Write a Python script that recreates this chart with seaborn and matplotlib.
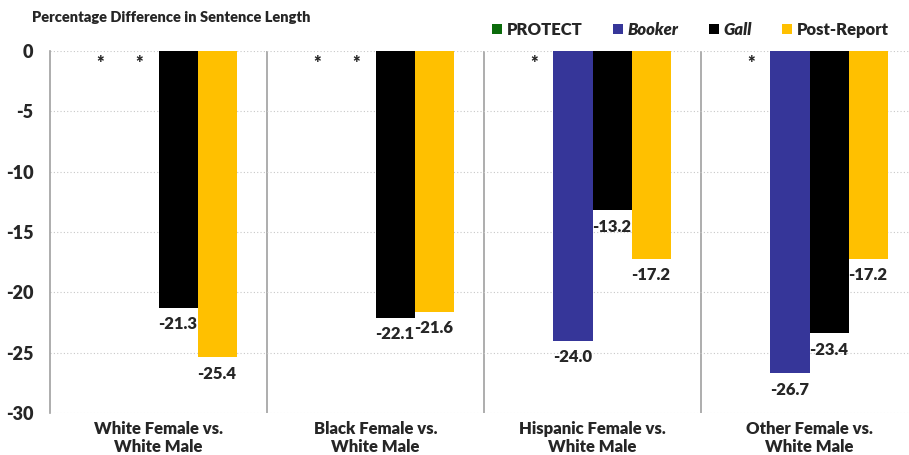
import seaborn as sns
import matplotlib.pyplot as plt
import pandas as pd
import numpy as np

categories = ["White Female vs.\nWhite Male", "Black Female vs.\nWhite Male",
              "Hispanic Female vs.\nWhite Male", "Other Female vs.\nWhite Male"]
series = ["PROTECT", "Booker", "Gall", "Post-Report"]
protect = [np.nan, np.nan, np.nan, np.nan]
booker = [np.nan, np.nan, -24.0, -26.7]
gall = [-21.3, -22.1, -13.2, -23.4]
post_report = [-25.4, -21.6, -17.2, -17.2]
yticks = [0, -5, -10, -15, -20, -25, -30]

colors = ["#0B6B0B", "#363699", "#000000", "#FFC000"]

rows = []
for name, vals in zip(series, [protect, booker, gall, post_report]):
    for cat, v in zip(categories, vals):
        rows.append({"cat": cat, "series": name, "value": v})
df = pd.DataFrame(rows)

sns.set_style("white")
plt.rcParams['font.family'] = ['Lato', 'DejaVu Sans']
plt.rcParams['font.weight'] = 'bold'

fig = plt.figure(figsize=(9.09, 4.55), dpi=100)
ax = fig.add_axes([50 / 909, 1 - 413 / 455, 868 / 909, 362 / 455])

sns.barplot(data=df, x="cat", y="value", hue="series", hue_order=series,
            order=categories, palette=colors, width=0.72, linewidth=0,
            saturation=1, ax=ax, legend=True)

ax.set_ylim(-30, 0)
ax.set_xlim(-0.5, 3.5)
ax.set_yticks(yticks)
ax.set_yticklabels([str(t) for t in yticks], fontsize=13, fontweight='heavy')
ax.tick_params(axis='y', length=4, color='#A0A0A0', pad=8)
ax.tick_params(axis='x', length=0, pad=6)
ax.set_xticks(range(len(categories)))
ax.set_xticklabels(categories, fontsize=12, fontweight='heavy', linespacing=1.1)
ax.set_xlabel("")
ax.set_ylabel("")
ax.yaxis.grid(True, linestyle=(0, (1, 2)), color='#C8C8C8', linewidth=0.8)
ax.set_axisbelow(True)
for s in ["top", "right", "bottom"]:
    ax.spines[s].set_visible(False)
ax.spines["left"].set_color("#A0A0A0")
ax.spines["left"].set_linewidth(1.2)

for xs in [0.5, 1.5, 2.5]:
    ax.axvline(xs, color="#A0A0A0", linewidth=1.2, zorder=0.5)

# value labels and asterisks for missing values
offsets = np.array([-0.27, -0.09, 0.09, 0.27])
for j, vals in enumerate([protect, booker, gall, post_report]):
    for i, v in enumerate(vals):
        x = i + offsets[j]
        if np.isnan(v):
            ax.annotate("*", (x, 0), xytext=(0, -3), textcoords="offset points",
                        ha="center", va="top", fontsize=13, fontweight='heavy')
        else:
            ax.annotate(f"{v:.1f}", (x, v), xytext=(0, -6), textcoords="offset points",
                        ha="center", va="top", fontsize=12, fontweight='heavy')

handles, labels = ax.get_legend_handles_labels()
leg = ax.legend(handles, labels, loc="center right", bbox_to_anchor=(904 / 909, 1 - 30 / 455),
                bbox_transform=fig.transFigure, ncol=4, frameon=False, fontsize=12,
                handlelength=0.6, handleheight=0.6, handletextpad=0.3, columnspacing=1.8)
for t in leg.get_texts():
    t.set_fontweight('heavy')
    if t.get_text() in ("Booker", "Gall"):
        t.set_fontstyle('italic')

fig.text(32 / 909, 1 - 17 / 455, "Percentage Difference in Sentence Length",
         fontsize=10.5, fontweight='heavy', va='center', ha='left')

fig.savefig("out.png", dpi=100)
